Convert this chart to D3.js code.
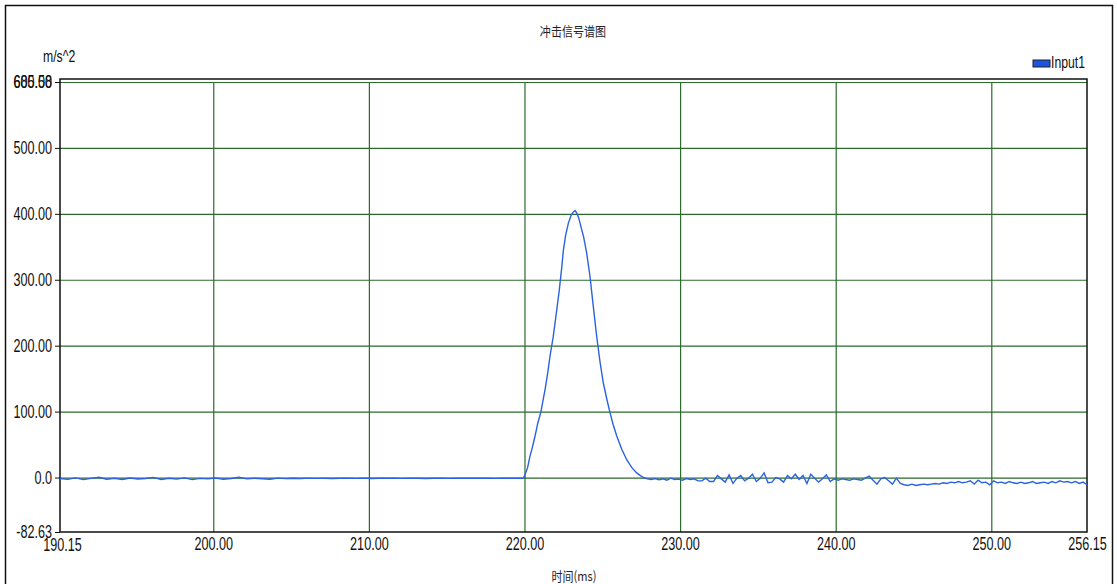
<!doctype html>
<html>
<head>
<meta charset="utf-8">
<style>
body{ margin:0; background:#ffffff; }
.lbl{ font-family:"Liberation Sans",Arial,sans-serif; font-size:18px; fill:#111; }
.cjk{ font-family:"Noto Sans CJK SC",sans-serif; font-size:13px; fill:#222; }
.grid line{ stroke:#2b6b2b; stroke-width:1.2; }
.grid path{ display:none; }
</style>
<script src="https://d3js.org/d3.v7.min.js"></script>
</head>
<body>
<svg width="1117" height="584"></svg>
<script>
// tick values / labels
var xTicks = [190.15, 200, 210, 220, 230, 240, 250, 256.15];
var xLabels = ["190.15","200.00","210.00","220.00","230.00","240.00","250.00","256.15"];
var yTicks = [-82.63, 0, 100, 200, 300, 400, 500, 600];
var yLabels = ["-82.63","0.0","100.00","200.00","300.00","400.00","500.00","600.00"];
var yMaxLabel = "685.58";

// flat part before the shock, sampled every 0.5 ms from 190.15
var preStart = 190.15, preStep = 0.5;
var preAccel = [-1.5,-2.8,-0.6,-3.1,-1.2,0.4,-2.5,-1.0,-3.0,-0.8,-2.2,-1.4,0.2,-2.9,-1.1,-2.4,-0.5,-3.2,-1.3,-2.0,-0.7,-2.6,-1.5,0.3,-2.1,-1.0,-1.8,-2.7,-0.9,-1.6,
  -1.2,-1.4,-0.9,-1.3,-1.1,-1.5,-1.0,-1.2,-1.3,-0.9,-1.4,-1.1,-1.2,-1.0,-1.3,-1.2,-1.1,-1.4,-1.0,-1.2,-1.3,-1.1,-1.2,-0.9,-1.2,-1.1,-1.3,-1.0,-1.2,-1.1];

// the pulse
var pulseTime = [219.9,220.0,220.2,220.35,220.5,220.68,220.85,221.06,221.2,221.32,
  221.5,221.64,221.85,222.05,222.24,222.4,222.5,222.65,222.82,223.0,
  223.14,223.25,223.36,223.47,223.57,223.8,224.0,224.21,224.42,224.64,
  224.85,225.07,225.3,225.5,225.7,225.93,226.25,226.57,226.9,227.21,
  227.45,227.64];
var pulseAccel = [-1,2,15,32,45,63,82,100,118,133,
  160,184,214,250,285,320,345,368,386,398,
  403,405,401,395,386,365,340,305,260,214,
  176,143,118,98,80,63,43,27,15,7,
  3,0];

// residual after the shock, sampled every 0.25 ms from 227.9
var postStart = 227.9, postStep = 0.25;
var postAccel = [-2,-3,-1.5,-3.5,-2,-4,-1,-3,-2.5,-4,-1.5,-3,-2,-5,-5,-1,-6,-6,3,-2,
  -7,4,-9,-1,3,-5,-1,5,-6,-1,7,-8,-7,0,-2,-7,3,-2,5,-3,
  3,-9,5,-1,-7,-2,4,-6,-2,-4,-2,-3,-4,-2,-3,-4,-1,2,-4,-10,
  -2,0,-5,-10,-1,-9,-11,-12,-10,-12,-11,-10,-11,-10,-9,-10,-8,-9,-7,-8,
  -6,-8,-7,-5,-10,-4,-8,-7,-11,-5,-8,-7,-9,-6,-8,-9,-7,-9,-8,-6,
  -9,-8,-7,-9,-6,-8,-5,-7,-6,-8,-6,-9,-7,-11];

var series = [];
preAccel.forEach(function(v, i){ series.push([preStart + i * preStep, v]); });
pulseTime.forEach(function(t, i){ series.push([t, pulseAccel[i]]); });
postAccel.forEach(function(v, i){ series.push([postStart + i * postStep, v]); });

var svg = d3.select("svg");
var pLeft = 60, pRight = 1087, pTop = 82, pBottom = 532;

var x = d3.scaleLinear().domain([190.15, 256.15]).range([pLeft, pRight]);
var y = d3.scaleLinear().domain([-82.63, 600]).range([pBottom, pTop]);

// squeeze text horizontally (narrow font look)
function narrow(sel, k){
  sel.each(function(){
    var w = this.getComputedTextLength();
    d3.select(this).attr("textLength", w * k).attr("lengthAdjust", "spacingAndGlyphs");
  });
}

// outer frame
svg.append("rect").attr("x", 5.5).attr("y", 5.5).attr("width", 1107).attr("height", 620)
  .attr("fill", "none").attr("stroke", "#111").attr("stroke-width", 1.5);

// grid
svg.append("g").attr("class", "grid")
  .attr("transform", "translate(0," + pBottom + ")")
  .call(d3.axisBottom(x).tickValues(xTicks.slice(1, -1)).tickSize(-(pBottom - pTop)).tickFormat(""));
svg.append("g").attr("class", "grid")
  .attr("transform", "translate(" + pLeft + ",0)")
  .call(d3.axisLeft(y).tickValues(yTicks.slice(1)).tickSize(-(pRight - pLeft)).tickFormat(""));

// plot frame
svg.append("rect").attr("x", pLeft).attr("y", pTop - 3).attr("width", pRight - pLeft).attr("height", pBottom - pTop + 3)
  .attr("fill", "none").attr("stroke", "#111").attr("stroke-width", 1.5);

// axes
var yAxis = svg.append("g").attr("transform", "translate(" + pLeft + ",0)")
  .call(d3.axisLeft(y).tickValues(yTicks).tickSize(5).tickPadding(3)
    .tickFormat(function(d, i){ return yLabels[i]; }));
yAxis.select(".domain").remove();
yAxis.selectAll("text").attr("class", "lbl").attr("fill", null);
yAxis.attr("font-size", null).attr("font-family", null);
yAxis.selectAll("line").attr("stroke", "#111");
yAxis.append("text").attr("class", "lbl").attr("x", -8).attr("y", y(600)).attr("dy", "0.32em")
  .attr("text-anchor", "end").text(yMaxLabel);
narrow(yAxis.selectAll("text"), 0.7);

var xAxis = svg.append("g").attr("transform", "translate(0," + pBottom + ")")
  .call(d3.axisBottom(x).tickValues(xTicks).tickSize(0).tickPadding(5)
    .tickFormat(function(d, i){ return xLabels[i]; }));
xAxis.select(".domain").remove();
xAxis.attr("font-size", null).attr("font-family", null);
xAxis.selectAll("text").attr("class", "lbl").attr("fill", null);
xAxis.selectAll("text").filter(function(d, i){ return i === 0; }).attr("dx", 2).attr("dy", "0.8em");
narrow(xAxis.selectAll("text"), 0.7);

// signal
svg.append("path").datum(series)
  .attr("fill", "none").attr("stroke", "#2a62df").attr("stroke-width", 1.4)
  .attr("d", d3.line().x(function(d){ return x(d[0]); }).y(function(d){ return y(d[1]); }));

// texts
narrow(svg.append("text").attr("class", "cjk").attr("x", 573).attr("y", 36).attr("text-anchor", "middle").text("冲击信号谱图"), 0.85);
narrow(svg.append("text").attr("class", "cjk").attr("x", 574).attr("y", 581).attr("text-anchor", "middle").text("时间(ms)"), 0.85);
narrow(svg.append("text").attr("class", "lbl").style("font-size", "17px").attr("x", 43).attr("y", 62).text("m/s^2"), 0.72);

// legend
svg.append("rect").attr("x", 1033).attr("y", 60).attr("width", 17).attr("height", 7)
  .attr("fill", "#1e55e0").attr("stroke", "#222").attr("stroke-width", 1);
narrow(svg.append("text").attr("class", "lbl").style("font-size", "17px").attr("x", 1051).attr("y", 68).text("Input1"), 0.72);
</script>
</body>
</html>
